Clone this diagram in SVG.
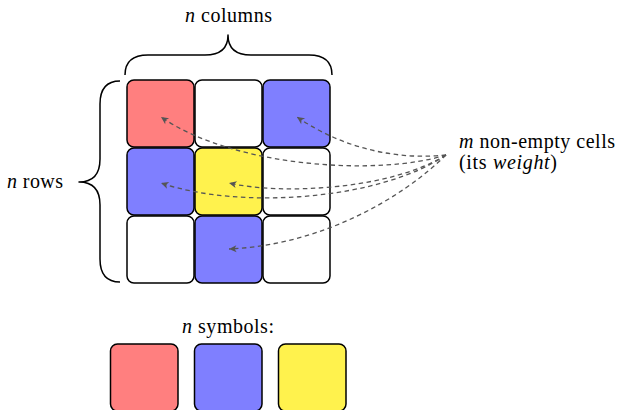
<svg xmlns="http://www.w3.org/2000/svg" width="619" height="410" viewBox="0 0 619 410">
  <style>
    .cell { stroke: #000; stroke-width: 1.5; }
    .empty { fill: #fff; }
    .red { fill: #ff7f7f; }
    .blue { fill: #7f7fff; }
    .yellow { fill: #fff24d; }
    .brace { fill: none; stroke: #000; stroke-width: 1.5; stroke-linejoin: round; }
    .lbl { font-family: "Liberation Serif", "Times New Roman", serif; font-size: 20px; fill: #000; }
    .it { font-style: italic; }
    .link { fill: none; stroke: #555; stroke-width: 1.3; stroke-dasharray: 4.5 3.5; marker-end: url(#head); }
  </style>
  <defs>
    <marker id="head" markerUnits="userSpaceOnUse" markerWidth="10" markerHeight="10" viewBox="-8 -4 10 8" refX="0" refY="0" orient="auto">
      <path d="M0,0 L-7.5,-3.5 L-5.5,0 L-7.5,3.5 Z" fill="#555"/>
    </marker>
  </defs>

  <!-- n x n grid -->
  <g id="grid">
    <g id="cell-0-0"><rect class="cell red" x="127" y="80" width="67" height="67" rx="7"/></g>
    <g id="cell-0-1"><rect class="cell empty" x="195" y="80" width="67" height="67" rx="7"/></g>
    <g id="cell-0-2"><rect class="cell blue" x="263" y="80" width="67" height="67" rx="7"/></g>
    <g id="cell-1-0"><rect class="cell blue" x="127" y="148" width="67" height="67" rx="7"/></g>
    <g id="cell-1-1"><rect class="cell yellow" x="195" y="148" width="67" height="67" rx="7"/></g>
    <g id="cell-1-2"><rect class="cell empty" x="263" y="148" width="67" height="67" rx="7"/></g>
    <g id="cell-2-0"><rect class="cell empty" x="127" y="216" width="67" height="67" rx="7"/></g>
    <g id="cell-2-1"><rect class="cell blue" x="195" y="216" width="67" height="67" rx="7"/></g>
    <g id="cell-2-2"><rect class="cell empty" x="263" y="216" width="67" height="67" rx="7"/></g>
  </g>

  <!-- braces with their labels -->
  <g id="columns-brace">
    <path class="brace" d="M125,75 C125,62 132,55 148,55 H205 C220,55 228,48 228,35 C228,48 236,55 251,55 H309 C325,55 332,62 332,75"/>
    <text class="lbl" x="185" y="22" textLength="87"><tspan class="it">n</tspan> columns</text>
  </g>
  <g id="rows-brace">
    <path class="brace" d="M120,81 C107,81 100,88 100,104 V159 C100,174 93,182 79,182 C93,182 100,190 100,205 V259 C100,275 107,282 120,282"/>
    <text class="lbl" x="7" y="188" textLength="56"><tspan class="it">n</tspan> rows</text>
  </g>

  <!-- weight label -->
  <g id="weight-label">
    <text class="lbl" x="459" y="148" textLength="156"><tspan class="it">m</tspan> non-empty cells</text>
    <text class="lbl" x="459" y="169" textLength="98">(its <tspan class="it">weight</tspan>)</text>
  </g>

  <!-- dashed pointers from the label to the filled cells -->
  <g id="connectors">
    <path class="link" d="M446,155 C380,176 235,168 161,117"/>
    <path class="link" d="M446,155 C400,160 345,150 297,117"/>
    <path class="link" d="M446,155 C380,200 240,210 161,183"/>
    <path class="link" d="M446,155 C390,190 280,195 229,183"/>
    <path class="link" d="M446,155 C400,200 320,245 229,249"/>
  </g>

  <!-- symbol palette -->
  <g id="symbols-title">
    <text class="lbl" x="182" y="333" textLength="92"><tspan class="it">n</tspan> symbols:</text>
  </g>
  <g id="symbol-red"><rect class="cell red" x="110.5" y="344" width="67.5" height="67" rx="7"/></g>
  <g id="symbol-blue"><rect class="cell blue" x="194.5" y="344" width="67.5" height="67" rx="7"/></g>
  <g id="symbol-yellow"><rect class="cell yellow" x="278.5" y="344" width="67.5" height="67" rx="7"/></g>
</svg>
